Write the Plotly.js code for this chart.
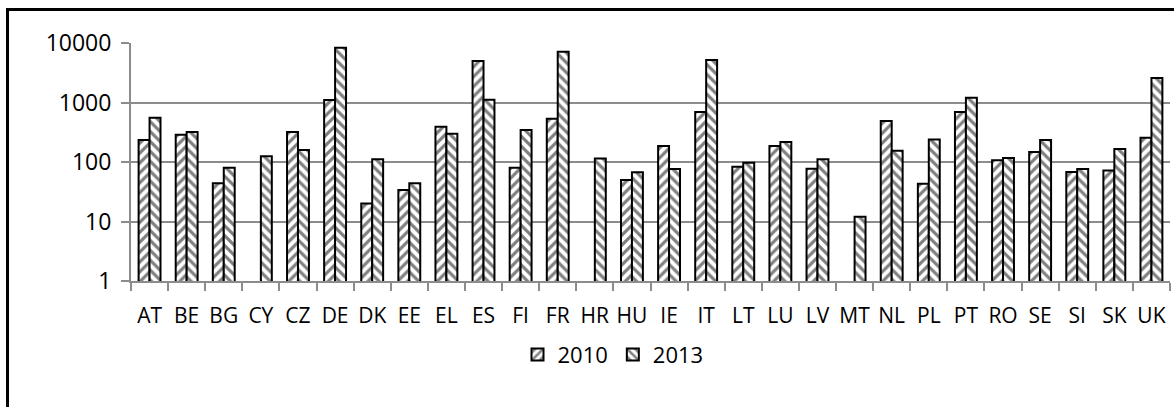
<!DOCTYPE html>
<html>
<head>
<meta charset="utf-8">
<script src="https://cdn.plot.ly/plotly-3.0.1.min.js"></script>
<style>
html,body{margin:0;padding:0;width:1174px;height:407px;overflow:hidden;background:#fff;}
#chart{position:absolute;left:0;top:0;width:1174px;height:407px;}
#frame{position:absolute;left:6px;top:8px;width:1300px;height:600px;border:3px solid #000;pointer-events:none;}
</style>
</head>
<body>
<div id="chart"></div>
<div id="frame"></div>
<script>
const categories = ["AT","BE","BG","CY","CZ","DE","DK","EE","EL","ES","FI","FR","HR","HU","IE","IT","LT","LU","LV","MT","NL","PL","PT","RO","SE","SI","SK","UK"];
const values2010 = [234,288,44,null,319,1100,20,34,392,4980,80,534,null,50,186,692,83,186,77,null,489,43,692,107,147,68,72,256];
const values2013 = [556,319,80,125,159,8300,111,44,299,1114,345,7140,114,67,76,5180,97,217,111,12,155,240,1205,117,234,76,165,2580];
const seriesNames = ["2010","2013"];
const yTickVals = [1,10,100,1000,10000];
const yTickText = ["1","10","100","1000","10000"];

const font = "Open Sans, sans-serif";
const gray = "#8c8c8c";

function bar(name, vals, shape){
  return {
    type: "bar", name: name, x: categories, y: vals,
    marker: {
      color: "#ffffff",
      line: {color: "#000000", width: 2},
      pattern: {shape: shape, fgcolor: "#000000", bgcolor: "#ffffff", size: 7, solidity: 0.45, fillmode: "overlay"}
    },
    hoverinfo: "x+y"
  };
}

const data = [bar(seriesNames[0], values2010, "/"), bar(seriesNames[1], values2013, "\\")];

const layout = {
  width: 1174, height: 407,
  margin: {l: 131, r: 4, t: 43, b: 126},
  paper_bgcolor: "#ffffff", plot_bgcolor: "#ffffff",
  font: {family: font, size: 22, color: "#000"},
  barmode: "group", bargap: 0.41, bargroupgap: 0,
  showlegend: true,
  legend: {orientation: "h", x: 0.372, xanchor: "left", y: -0.31, yanchor: "middle",
           font: {family: font, size: 22}, itemwidth: 30, tracegroupgap: 0},
  xaxis: {
    type: "category", showline: true, linecolor: gray, linewidth: 2,
    ticks: "outside", tickson: "boundaries", ticklen: 8, tickcolor: gray, tickwidth: 2,
    tickangle: 0, automargin: false, ticklabelstandoff: 15,
    showgrid: false, tickfont: {family: font, size: 21}, fixedrange: true
  },
  yaxis: {
    type: "log", range: [0, 4], tickvals: yTickVals, ticktext: yTickText,
    showline: true, linecolor: gray, linewidth: 2,
    ticks: "outside", ticklen: 8, tickcolor: gray, tickwidth: 2, ticklabelstandoff: 5,
    showgrid: true, gridcolor: gray, gridwidth: 2, zeroline: false, automargin: false,
    tickfont: {family: font, size: 23}, fixedrange: true
  }
};

Plotly.newPlot("chart", data, layout, {displayModeBar: false, staticPlot: true});
</script>
</body>
</html>
